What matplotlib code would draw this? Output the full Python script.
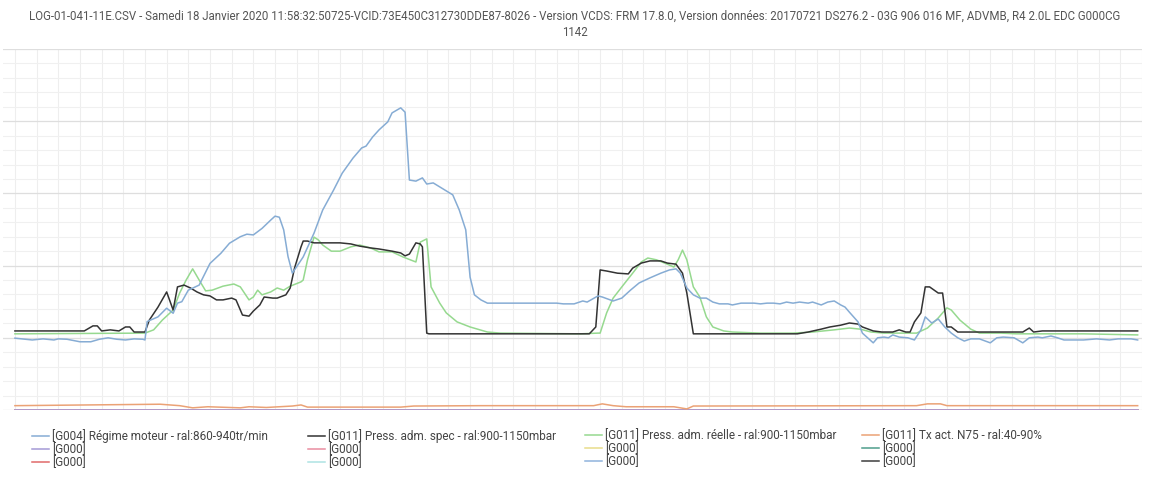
import matplotlib.pyplot as plt
import numpy as np

plt.rcParams["font.family"] = ["Roboto", "DejaVu Sans"]

title = ("LOG-01-041-11E.CSV - Samedi 18 Janvier 2020 11:58:32:50725-VCID:73E450C312730DDE87-8026 - "
         "Version VCDS: FRM 17.8.0, Version données: 20170721 DS276.2 - 03G 906 016 MF, ADVMB, R4 2.0L EDC G000CG\n1142")

# (t, value), value in % of the chart height
regime = [(0, 19.9), (0.8, 19.4), (1.3, 19.7), (1.8, 19.4), (2.0, 19.7), (2.4, 19.6), (3.0, 18.9), (3.5, 18.9),
          (3.9, 19.6), (4.3, 20.0), (4.7, 19.6), (5.1, 19.4), (5.5, 19.7), (5.9, 19.6), (6.0, 19.4), (6.1, 24.5),
          (6.6, 25.8), (7.0, 28.2), (7.3, 26.8), (7.5, 29.6), (7.7, 30.0), (8.0, 33.2), (8.5, 34.6), (9.0, 40.6),
          (9.5, 43.4), (9.9, 46.2), (10.4, 48.0), (10.7, 48.7), (11.0, 48.5), (11.4, 50.3), (11.8, 52.6),
          (12.0, 53.7), (12.2, 53.4), (12.4, 49.9), (12.6, 42.5), (12.8, 37.9), (13.0, 39.7), (13.3, 42.4),
          (13.8, 49.0), (14.2, 55.4), (14.7, 60.9), (15.1, 65.6), (15.6, 69.8), (16.0, 72.6), (16.2, 73.1),
          (16.5, 75.6), (16.8, 77.6), (17.2, 79.8), (17.4, 82.3), (17.8, 83.7), (18.0, 82.5), (18.2, 63.7),
          (18.5, 63.4), (18.8, 64.3), (19.0, 62.6), (19.3, 62.9), (19.6, 61.8), (19.9, 60.7), (20.2, 59.6),
          (20.5, 55.4), (20.8, 49.9), (21.0, 36.8), (21.2, 31.9), (21.5, 30.5), (21.8, 29.6), (23.0, 29.6),
          (24.6, 29.6), (25.0, 29.6), (25.3, 29.4), (25.8, 29.4), (26.2, 30.2), (26.4, 29.9), (26.9, 31.6),
          (27.1, 31.3), (27.6, 30.2), (28.0, 31.0), (28.4, 33.2), (28.8, 35.2), (29.3, 36.6), (29.8, 37.9),
          (30.2, 38.8), (30.5, 39.1), (30.7, 37.9), (31.0, 33.8), (31.3, 31.9), (31.6, 31.0), (31.9, 31.0),
          (32.2, 29.9), (32.5, 29.4), (32.9, 29.4), (33.1, 29.1), (33.5, 29.6), (33.8, 29.6), (34.1, 29.6),
          (34.4, 29.4), (34.7, 29.6), (35.0, 29.6), (35.3, 29.4), (35.6, 29.9), (35.9, 29.6), (36.2, 29.9),
          (36.6, 29.6), (36.8, 29.9), (37.2, 29.1), (37.5, 29.9), (37.8, 30.2), (38.1, 29.1), (38.3, 28.5),
          (38.5, 27.1), (38.9, 24.4), (39.1, 21.3), (39.6, 18.6), (39.8, 20.0), (40.1, 20.2), (40.3, 20.0),
          (40.5, 20.8), (40.8, 20.2), (41.2, 20.0), (41.5, 19.4), (41.8, 22.2), (42.0, 25.8), (42.3, 24.1),
          (42.6, 25.2), (42.9, 23.0), (43.2, 21.3), (43.5, 20.0), (43.8, 19.1), (44.1, 19.7), (44.5, 19.7),
          (45.0, 18.6), (45.3, 20.0), (45.6, 20.2), (46.1, 20.0), (46.5, 18.6), (46.8, 20.0), (47.2, 20.2),
          (47.4, 20.0), (47.8, 20.5), (48.1, 20.0), (48.4, 19.4), (49.3, 19.4), (49.9, 19.7), (50.5, 19.4),
          (50.9, 19.7), (51.5, 19.7), (51.8, 19.4)]

press_spec = [(0, 21.9), (3.2, 21.9), (3.6, 23.3), (3.8, 23.3), (4.0, 21.9), (4.4, 22.2), (4.8, 21.9), (5.1, 23.0),
              (5.3, 23.0), (5.5, 21.6), (6.0, 21.6), (6.2, 24.9), (6.6, 28.5), (7.0, 32.7), (7.3, 27.7),
              (7.5, 34.1), (7.8, 34.6), (8.1, 33.8), (8.4, 32.7), (8.7, 31.9), (9.0, 31.6), (9.3, 30.5),
              (9.6, 30.5), (10.0, 31.0), (10.2, 30.5), (10.5, 26.3), (10.8, 26.0), (11.0, 27.4), (11.3, 29.1),
              (11.5, 31.3), (11.9, 31.0), (12.1, 31.0), (12.5, 31.9), (12.7, 33.8), (12.9, 39.3), (13.2, 45.2),
              (13.3, 46.8), (13.5, 46.8), (13.8, 46.3), (14.4, 46.3), (15.0, 46.3), (15.5, 46.0), (15.9, 45.4),
              (16.4, 44.9), (16.8, 44.6), (17.4, 44.0), (17.8, 43.5), (18.0, 42.7), (18.2, 43.2), (18.5, 46.3),
              (18.7, 46.0), (18.8, 45.2), (19.0, 21.3), (19.1, 21.1), (26.5, 21.1), (26.8, 23.0), (27.0, 38.8),
              (27.3, 38.5), (27.8, 37.9), (28.3, 37.7), (28.5, 39.3), (28.9, 40.7), (29.3, 41.3), (29.8, 41.3),
              (30.1, 40.7), (30.5, 40.4), (30.8, 37.9), (31.0, 32.4), (31.3, 21.1), (36.1, 21.1), (36.6, 21.6),
              (37.2, 22.4), (37.6, 23.0), (38.1, 23.5), (38.5, 24.1), (38.9, 23.8), (39.1, 23.0), (39.6, 21.9),
              (40.0, 21.6), (40.5, 21.6), (40.8, 22.2), (41.1, 21.6), (41.3, 21.6), (41.5, 24.4), (41.8, 26.9),
              (42.0, 34.1), (42.2, 34.1), (42.6, 32.4), (42.8, 32.4), (43.0, 23.0), (43.2, 23.0), (43.5, 21.6),
              (46.5, 21.6), (46.8, 22.7), (47.0, 21.6), (47.4, 21.9), (51.8, 21.9)]

press_reelle = [(0, 21.1), (6.0, 21.3), (6.4, 22.2), (6.8, 24.9), (7.3, 27.7), (7.6, 32.4), (7.9, 36.0), (8.2, 39.1),
                (8.5, 36.0), (8.8, 33.0), (9.1, 33.2), (9.6, 34.3), (10.1, 34.9), (10.4, 34.1), (10.8, 30.5),
                (11.0, 31.3), (11.2, 33.2), (11.4, 31.9), (11.8, 32.7), (12.1, 33.8), (12.4, 33.2), (12.7, 34.3),
                (13.2, 35.5), (13.3, 36.0), (13.5, 41.6), (13.8, 47.9), (14.0, 47.1), (14.2, 45.7), (14.6, 44.0),
                (15.0, 44.0), (15.5, 45.2), (15.9, 45.7), (16.4, 44.9), (16.8, 43.8), (17.4, 43.8), (17.9, 42.4),
                (18.5, 41.0), (18.7, 46.5), (19.0, 47.4), (19.2, 34.1), (19.6, 29.6), (19.9, 26.9), (20.4, 24.4),
                (21.0, 23.0), (21.8, 21.6), (22.4, 21.3), (26.1, 21.1), (26.9, 21.3), (27.0, 21.3), (27.3, 26.9),
                (27.6, 31.0), (28.0, 34.1), (28.5, 37.9), (28.9, 41.0), (29.2, 42.1), (29.6, 41.6), (30.1, 40.4),
                (30.4, 39.6), (30.6, 41.6), (30.8, 44.3), (31.0, 41.6), (31.3, 34.1), (31.6, 31.3), (31.9, 25.8),
                (32.2, 23.0), (32.7, 21.9), (33.1, 21.6), (34.4, 21.3), (35.9, 21.3), (36.8, 21.6), (37.8, 22.2),
                (38.5, 22.7), (39.0, 22.4), (39.5, 21.6), (40.1, 21.3), (41.6, 21.3), (42.1, 22.7), (42.6, 25.5),
                (43.0, 28.3), (43.2, 27.7), (43.6, 24.9), (44.1, 22.4), (44.5, 21.3), (45.5, 21.3), (46.2, 21.1),
                (49.3, 21.1), (51.8, 20.8)]

tx_n75 = [(0, 1.2), (6.7, 1.6), (7.6, 1.2), (8.2, 0.6), (8.9, 0.9), (10.4, 0.6), (10.8, 0.9), (11.6, 0.7),
          (12.8, 1.1), (13.2, 1.4), (13.5, 0.8), (17.8, 0.8), (18.4, 1.1), (21.5, 1.2), (26.7, 1.2), (27.1, 1.7),
          (27.6, 1.2), (28.2, 0.9), (30.4, 0.9), (31.0, 0.3), (31.3, 1.1), (41.6, 1.2), (42.1, 1.7), (42.7, 1.7),
          (43.0, 1.2), (51.8, 1.2)]

empty = [(0, 0), (51.8, 0)]

# legend order row by row, as in the picture
series = [
    ("[G004] Régime moteur - ral:860-940tr/min", regime, "#86acd4"),
    ("[G011] Press. adm. spec - ral:900-1150mbar", press_spec, "#333333"),
    ("[G011] Press. adm. réelle - ral:900-1150mbar", press_reelle, "#96d98f"),
    ("[G011] Tx act. N75 - ral:40-90%", tx_n75, "#eba275"),
    ("[G000]", empty, "#a49ad6"),
    ("[G000]", empty, "#e98da0"),
    ("[G000]", empty, "#e8dc8a"),
    ("[G000]", empty, "#4e9e8c"),
    ("[G000]", empty, "#e06a6a"),
    ("[G000]", empty, "#aee3e3"),
    ("[G000]", empty, "#8fb3dc"),
    ("[G000]", empty, "#3d3d3d"),
]

fig = plt.figure(figsize=(11.52, 4.8), dpi=100)
ax = fig.add_axes([3 / 1152, 70 / 480, 1139 / 1152, 361 / 480])

handles = []
for label, pts, color in reversed(series):
    pts = np.array(pts)
    (ln,) = ax.plot(pts[:, 0], pts[:, 1], color=color, lw=1.1, label=label)
    handles.append(ln)
handles = handles[::-1]

ax.set_xlim(-0.55, 52.0)
ax.set_ylim(0, 100)
ax.set_xticks(np.arange(0, 53, 1))
ax.set_yticks(np.arange(0, 101, 20))
ax.set_yticks(np.arange(0, 101, 4), minor=True)
ax.grid(True, which="major", axis="y", color="#dedede", lw=0.9)
ax.grid(True, which="minor", axis="y", color="#f0f0f0", lw=0.8)
ax.grid(True, which="major", axis="x", color="#eeeeee", lw=0.8)
ax.set_axisbelow(True)
ax.tick_params(which="both", length=0, labelbottom=False, labelleft=False)
for s in ax.spines.values():
    s.set_visible(False)

fig.text(0.499, 1 - 10 / 480, title, ha="center", va="top", fontsize=8.3, color="#555555", linespacing=1.25)

col_x = [32, 308, 585, 862]
for c in range(4):
    hs = [handles[c + 4 * r] for r in range(3)]
    leg = fig.legend(hs, [h.get_label() for h in hs], loc="upper left",
                     bbox_to_anchor=(col_x[c] / 1152, 1 - 429 / 480), frameon=False,
                     fontsize=8.5, borderpad=0, borderaxespad=0, handlelength=1.4,
                     handletextpad=0.3, labelspacing=0.02, labelcolor="#444444")

fig.savefig("out.png", dpi=100, facecolor="white")
